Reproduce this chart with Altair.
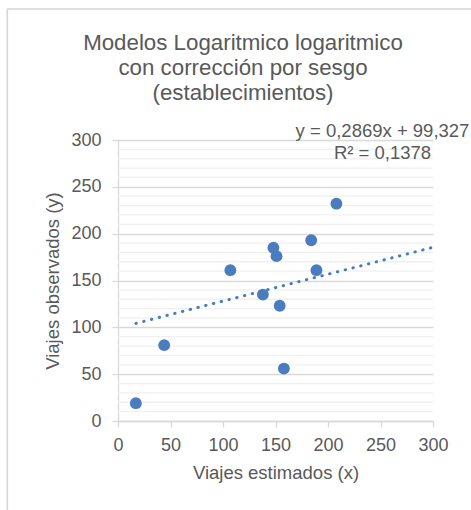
import altair as alt
import pandas as pd

# ---- data ----
x_estimados = [17, 44, 107, 138, 148, 151, 154, 158, 184, 189, 208]
y_observados = [19, 81, 161, 135, 185, 176, 123, 56, 193, 161, 232]
trend_slope = 0.2869
trend_intercept = 99.327
trend_x = [min(x_estimados), 300]
x_ticks = [0, 50, 100, 150, 200, 250, 300]
y_ticks = [0, 50, 100, 150, 200, 250, 300]
title_lines = ["Modelos Logaritmico logaritmico", "con corrección por sesgo", "(establecimientos)"]
eq_label = "y = 0,2869x + 99,327"
r2_label = "R² = 0,1378"

FONT = "Liberation Sans"
TXT = "#595959"
BLUE = "#4A7DBF"
W, H = 315, 281

pts = pd.DataFrame({"x": x_estimados, "y": y_observados})
trend = pd.DataFrame({"x": trend_x})

xscale = alt.Scale(domain=[0, 300], nice=False, zero=True)
yscale = alt.Scale(domain=[0, 300], nice=False, zero=True)

xaxis = alt.Axis(
    values=x_ticks, title="Viajes estimados (x)", grid=False, labelFlush=False,
    domainColor="#D9D9D9", domainWidth=1.3, tickColor="#D9D9D9", tickSize=6, tickWidth=1.3,
    labelFont=FONT, labelFontSize=18, labelColor=TXT, labelBaseline="alphabetic", labelPadding=23,
    titleFont=FONT, titleFontSize=18.5, titleFontWeight="normal", titleColor=TXT,
    titleX=W / 2, titleY=57, titleBaseline="alphabetic", titleAlign="center",
)
yaxis = alt.Axis(
    values=y_ticks, title="Viajes observados (y)", grid=True, gridColor="#D9D9D9", gridWidth=1.3,
    labelFlush=False,
    domainColor="#D9D9D9", domainWidth=1.3, tickColor="#D9D9D9", tickSize=6, tickWidth=1.3,
    labelFont=FONT, labelFontSize=18, labelColor=TXT, labelPadding=11,
    titleFont=FONT, titleFontSize=18.5, titleFontWeight="normal", titleColor=TXT,
    titleX=-60, titleY=H / 2, titleAngle=-90, titleBaseline="alphabetic", titleAlign="center",
)

minor = (
    alt.Chart(alt.sequence(10, 300, 10, as_="v"))
    .transform_filter("datum.v % 50 != 0")
    .mark_rule(color="#F0F0F0", strokeWidth=1.3)
    .encode(y=alt.Y("v:Q", scale=yscale, axis=yaxis))
)

border = alt.Chart(pd.DataFrame({"a": [0]})).mark_rect(
    fillOpacity=0, stroke="#D6D6D6", strokeWidth=1.6
).encode(x=alt.value(-110.7), x2=alt.value(380), y=alt.value(-131), y2=alt.value(400))

line = (
    alt.Chart(trend)
    .transform_calculate(y=f"{trend_slope} * datum.x + {trend_intercept}")
    .mark_line(color=BLUE, strokeWidth=3, strokeDash=[0.5, 7.5], strokeCap="round")
    .encode(x=alt.X("x:Q", scale=xscale, axis=xaxis), y=alt.Y("y:Q", scale=yscale, axis=yaxis))
)

points = alt.Chart(pts).mark_circle(size=140, color=BLUE, opacity=1).encode(
    x=alt.X("x:Q", scale=xscale, axis=xaxis), y=alt.Y("y:Q", scale=yscale, axis=yaxis)
)

ann1 = alt.Chart(pd.DataFrame({"t": [eq_label]})).mark_text(
    font=FONT, fontSize=18.5, color=TXT, align="center", baseline="alphabetic"
).encode(text="t:N", x=alt.value(264.5), y=alt.value(-3.3))
ann2 = alt.Chart(pd.DataFrame({"t": [r2_label]})).mark_text(
    font=FONT, fontSize=18.5, color=TXT, align="center", baseline="alphabetic"
).encode(text="t:N", x=alt.value(264.5), y=alt.value(19.3))

chart = (
    alt.layer(border, minor, line, points, ann1, ann2)
    .properties(
        width=W, height=H,
        title=alt.TitleParams(
            text=title_lines, font=FONT, fontSize=22.3, fontWeight="normal", color=TXT,
            anchor="middle", lineHeight=25, dx=-32.5, dy=114, baseline="alphabetic", offset=0,
        ),
        autosize=alt.AutoSizeParams(type="none"),
        padding={"left": 118, "top": 140, "right": 38, "bottom": 89},
        background="white",
    )
    .configure_view(stroke=None)
)

chart.save("out.html", embed_options={"renderer": "svg", "actions": False})
